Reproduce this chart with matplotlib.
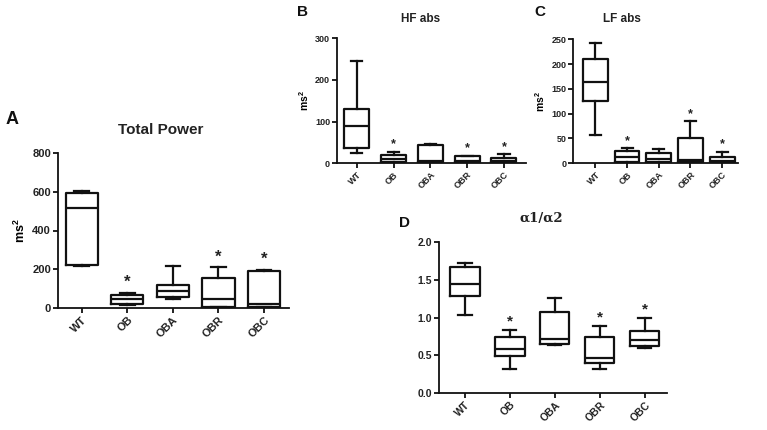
import matplotlib
matplotlib.use("Agg")
import matplotlib.pyplot as plt

plt.rcParams['font.family'] = ['Liberation Sans', 'DejaVu Sans']
plt.rcParams['mathtext.fontset'] = 'custom'
plt.rcParams['mathtext.rm'] = 'Liberation Sans:bold'
plt.rcParams['mathtext.it'] = 'Liberation Sans:bold'

categories = ["WT", "OB", "OBA", "OBR", "OBC"]

# Panel A: Total Power
A_min = [215, 17, 45, 5, 3]
A_q1 = [220, 22, 58, 7, 6]
A_med = [515, 45, 90, 46, 22]
A_q3 = [595, 68, 119, 156, 192]
A_max = [603, 80, 218, 210, 196]
A_star = [False, True, False, True, True]
A_ticks = [0, 200, 400, 600, 800]

# Panel B: HF abs
B_min = [24, 1, 2, 1, 1]
B_q1 = [37, 3, 3, 2, 2]
B_med = [89, 10, 6, 6, 5]
B_q3 = [131, 21, 44, 17, 13]
B_max = [245, 28, 46, 18, 22]
B_star = [False, True, False, True, True]
B_ticks = [0, 100, 200, 300]

# Panel C: LF abs
C_min = [58, 0, 1, 1, 0]
C_q1 = [126, 2, 2, 2, 1]
C_med = [164, 12, 9, 6, 5]
C_q3 = [211, 24, 20, 51, 13]
C_max = [242, 30, 28, 85, 23]
C_star = [False, True, False, True, True]
C_ticks = [0, 50, 100, 150, 200, 250]

# Panel D: alpha1/alpha2
D_min = [1.03, 0.31, 0.64, 0.32, 0.59]
D_q1 = [1.28, 0.49, 0.645, 0.40, 0.625]
D_med = [1.44, 0.58, 0.71, 0.46, 0.70]
D_q3 = [1.67, 0.74, 1.07, 0.745, 0.82]
D_max = [1.72, 0.83, 1.26, 0.89, 1.00]
D_star = [False, True, False, True, True]
D_ticks = [0.0, 0.5, 1.0, 1.5, 2.0]
D_ticklabels = ["0.0", "0.5", "1.0", "1.5", "2.0"]

W, H = 767, 430
fig = plt.figure(figsize=(W / 100, H / 100), dpi=100)

def ax_px(x0, x1, ytop, ybot):
    return fig.add_axes([x0 / W, 1 - ybot / H, (x1 - x0) / W, (ybot - ytop) / H])

col = '#111111'
lw = 1.6

def panel(ax, mins, q1s, meds, q3s, maxs, stars, ticks, ylim, xlim,
          ticklabels=None, width=0.68, tfs=7.5, star_fs=10, star_off=3):
    stats = []
    for i in range(len(categories)):
        stats.append(dict(med=meds[i], q1=q1s[i], q3=q3s[i],
                          whislo=mins[i], whishi=maxs[i], fliers=[]))
    pos = list(range(len(categories)))
    ax.bxp(stats, positions=pos, widths=width, capwidths=width * 0.45,
           showfliers=False, patch_artist=False,
           boxprops=dict(color=col, linewidth=lw),
           whiskerprops=dict(color=col, linewidth=lw),
           capprops=dict(color=col, linewidth=lw),
           medianprops=dict(color=col, linewidth=lw))
    for i, s in enumerate(stars):
        if s:
            ax.annotate('*', xy=(pos[i], maxs[i]), xytext=(0, star_off),
                        textcoords='offset points', ha='center', va='bottom',
                        fontsize=star_fs, fontweight='bold', color='#222222')
    ax.set_ylim(*ylim)
    ax.set_xlim(*xlim)
    ax.set_yticks(ticks)
    if ticklabels is not None:
        ax.set_yticklabels(ticklabels)
    ax.set_xticks(pos)
    ax.set_xticklabels(categories, rotation=45, ha='right',
                       rotation_mode='anchor', fontsize=tfs, fontweight='bold',
                       color='#222222')
    for lab in ax.get_yticklabels():
        lab.set_fontweight('bold')
        lab.set_fontsize(tfs)
        lab.set_color('#222222')
    for sp in ['top', 'right']:
        ax.spines[sp].set_visible(False)
    for sp in ['left', 'bottom']:
        ax.spines[sp].set_linewidth(1.3)
        ax.spines[sp].set_color(col)
    ax.tick_params(axis='both', direction='out', length=3.5, width=1.3,
                   color=col, pad=1.5)
    ax.patch.set_alpha(0)

# Panel A
axA = ax_px(58, 289, 153, 308)
panel(axA, A_min, A_q1, A_med, A_q3, A_max, A_star, A_ticks, (0, 800),
      (-0.52, 4.55), width=0.71, tfs=8, star_fs=12, star_off=2)
axA.set_ylabel('ms$^2$', fontsize=9, fontweight='bold', labelpad=3)
fig.text(161 / W, 1 - 130 / H, 'Total Power', ha='center', va='center',
         fontsize=11, fontweight='bold', color='#222222')
fig.text(6 / W, 1 - 120 / H, 'A', ha='left', va='center', fontsize=13,
         fontweight='bold', color='#111111')

# Panel B
axB = ax_px(337, 526, 38.3, 163.3)
panel(axB, B_min, B_q1, B_med, B_q3, B_max, B_star, B_ticks, (0, 300),
      (-0.54, 4.6), width=0.68, tfs=6.5, star_fs=9, star_off=1)
axB.set_ylabel('ms$^2$', fontsize=7.5, fontweight='bold', labelpad=3)
fig.text(421 / W, 1 - 19 / H, 'HF abs', ha='center', va='center',
         fontsize=8.5, fontweight='bold', color='#222222')
fig.text(302 / W, 1 - 12 / H, 'B', ha='center', va='center', fontsize=11,
         fontweight='bold', color='#111111')

# Panel C
axC = ax_px(573.3, 738, 39.3, 163.3)
panel(axC, C_min, C_q1, C_med, C_q3, C_max, C_star, C_ticks, (0, 250),
      (-0.7, 4.5), width=0.78, tfs=6.5, star_fs=9, star_off=1)
axC.set_ylabel('ms$^2$', fontsize=7.5, fontweight='bold', labelpad=3)
fig.text(622 / W, 1 - 19 / H, 'LF abs', ha='center', va='center',
         fontsize=8.5, fontweight='bold', color='#222222')
fig.text(540 / W, 1 - 12 / H, 'C', ha='center', va='center', fontsize=11,
         fontweight='bold', color='#111111')

# Panel D
axD = ax_px(439.3, 667.3, 242.3, 392.7)
panel(axD, D_min, D_q1, D_med, D_q3, D_max, D_star, D_ticks, (0, 2.0),
      (-0.57, 4.5), ticklabels=D_ticklabels, width=0.65, tfs=7.5,
      star_fs=11, star_off=1)
fig.text(541 / W, 1 - 218 / H, 'α1/α2', ha='center', va='center',
         fontsize=9.5, fontweight='bold', color='#222222',
         family=['DejaVu Serif', 'Liberation Serif'])
fig.text(405 / W, 1 - 223 / H, 'D', ha='center', va='center', fontsize=11,
         fontweight='bold', color='#111111')

fig.savefig('out.png', dpi=100, facecolor='white')
